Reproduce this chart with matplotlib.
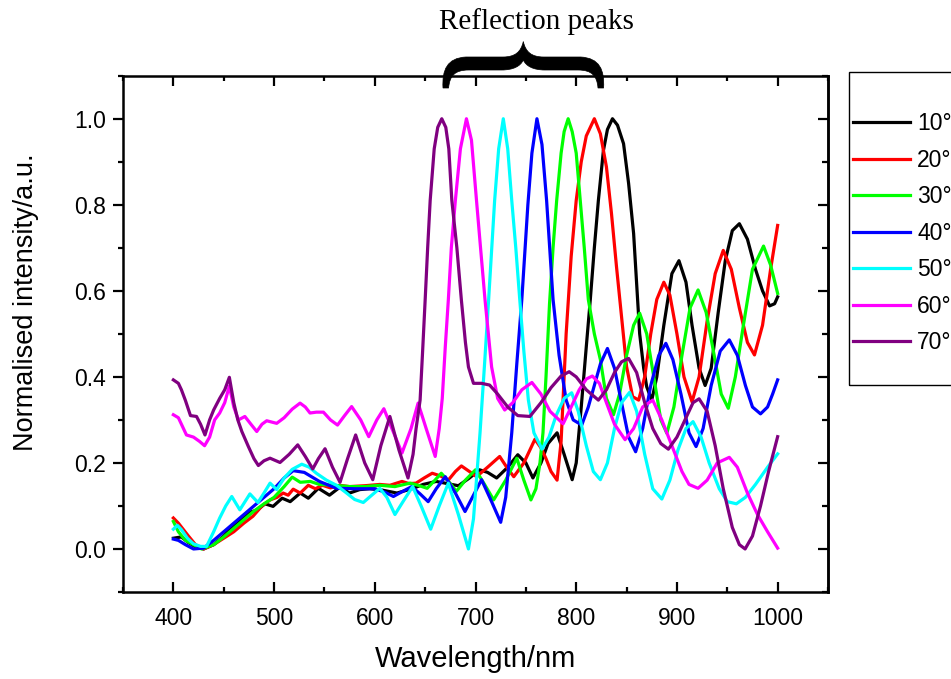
#!/usr/bin/env python3
"""Angle-resolved reflection spectra, normalised, 400-1000 nm."""

import matplotlib

matplotlib.use("Agg")
import matplotlib.pyplot as plt
from matplotlib.path import Path
from matplotlib.patches import PathPatch, Rectangle
from matplotlib.ticker import MultipleLocator

# ---- data ---------------------------------------------------------------
wl_10 = [400, 408, 415, 422, 430, 440, 450, 460, 470, 475, 483, 491, 499, 508, 516, 526, 534, 544, 555,
         565, 575, 585, 595, 607, 622, 637, 648, 661, 672, 683, 694, 704, 712, 721, 732, 742, 750, 757,
         765, 772, 781, 788, 796, 800, 805, 810, 814, 818, 822, 827, 831, 836, 841, 847, 852, 857, 863,
         867, 870, 875, 880, 887, 895, 902, 909, 915, 922, 928, 934, 941, 948, 955, 962, 970, 978, 985,
         992, 997, 1000]
in_10 = [.025, .028, .015, .005, .0, .01, .03, .055, .075, .085, .09, .105, .099, .118, .11, .13, .118, .141,
         .125, .143, .13, .138, .14, .137, .13, .14, .15, .157, .152, .147, .165, .184, .178, .165, .19, .219,
         .2, .165, .2, .245, .27, .22, .161, .2, .33, .47, .58, .7, .81, .926, .975, 1.0, .985, .942, .85,
         .733, .5, .42, .377, .346, .4, .52, .64, .67, .62, .52, .42, .38, .42, .55, .67, .74, .756, .72,
         .65, .6, .565, .57, .586]

wl_20 = [400, 405, 410, 415, 422, 430, 440, 450, 460, 470, 479, 488, 496, 503, 509, 514, 519, 526, 534,
         541, 548, 556, 565, 575, 590, 605, 615, 627, 634, 641, 649, 657, 665, 673, 680, 686, 694, 701,
         712, 724, 731, 738, 748, 759, 765, 770, 775, 781, 785, 790, 795, 800, 805, 810, 818, 824, 830,
         835, 840, 845, 850, 856, 862, 868, 874, 880, 887, 893, 900, 907, 915, 922, 930, 938, 946, 954,
         962, 970, 977, 985, 993, 1000]
in_20 = [.072, .06, .045, .03, .01, .0, .01, .025, .04, .06, .076, .1, .114, .12, .13, .125, .139, .13, .148,
         .14, .148, .142, .148, .145, .147, .15, .148, .157, .152, .153, .165, .176, .17, .16, .18, .193,
         .18, .168, .19, .215, .19, .168, .2, .255, .235, .21, .18, .16, .25, .5, .68, .81, .9, .96, 1.0,
         .965, .888, .78, .656, .54, .424, .354, .346, .4, .5, .58, .62, .59, .5, .4, .342, .4, .53, .64,
         .694, .65, .56, .48, .451, .52, .65, .752]

wl_30 = [400, 405, 412, 420, 428, 440, 450, 460, 470, 480, 490, 500, 510, 518, 526, 536, 545, 560, 575,
         590, 605, 620, 635, 643, 652, 659, 666, 674, 681, 690, 700, 709, 718, 730, 741, 748, 755, 760,
         764, 767, 770, 773.5, 777, 780.6, 785, 788, 792, 796, 800, 804, 808, 812, 818, 824, 830, 837,
         843, 850, 857, 863, 870, 877, 884, 890, 897, 905, 913, 921, 929, 937, 944, 951, 958, 966, 975,
         986, 993, 1000]
in_30 = [.064, .04, .02, .01, .0, .01, .028, .048, .068, .088, .105, .12, .145, .167, .155, .157, .15, .148,
         .145, .145, .148, .145, .153, .148, .141, .158, .176, .155, .134, .16, .184, .15, .114, .16, .211,
         .16, .114, .14, .2, .27, .4, .57, .7, .81, .92, .97, 1.0, .97, .92, .81, .7, .58, .5, .44, .35,
         .312, .36, .45, .52, .548, .5, .4, .3, .269, .33, .45, .56, .602, .55, .45, .36, .327, .4, .52,
         .65, .704, .66, .594]

wl_40 = [400, 405, 412, 420, 430, 440, 450, 460, 470, 480, 490, 500, 510, 519, 530, 545, 562, 580, 600,
         610, 618.5, 627, 636.7, 645, 653, 661, 670, 680, 689.6, 698, 706, 716, 725, 730, 736, 741, 746,
         752, 756, 761, 766, 770.6, 777, 783, 790, 797, 805.5, 812, 818, 824, 831, 838, 845, 852, 859,
         866, 874, 882, 889, 896, 904, 912, 919, 926, 934, 943, 952, 960, 968, 975, 983, 990, 995, 1000]
in_40 = [.023, .02, .01, .0, .002, .02, .04, .06, .08, .1, .12, .14, .165, .182, .178, .157, .141, .14, .14,
         .132, .122, .133, .145, .128, .11, .14, .168, .13, .087, .125, .161, .11, .062, .12, .27, .43,
         .58, .8, .92, 1.0, .94, .81, .58, .45, .346, .3, .288, .33, .38, .43, .466, .42, .34, .26, .226,
         .28, .38, .45, .478, .44, .36, .27, .238, .28, .38, .46, .486, .45, .38, .33, .314, .33, .36, .393]

wl_50 = [400, 404, 408, 414, 420, 427, 433, 440, 446, 452, 458, 466, 476, 484, 490, 496, 502.6, 510, 518,
         527.5, 535, 542, 552, 562, 572, 580, 588.6, 597, 605, 612, 620, 628, 637.6, 646, 655.5, 664, 673,
         683, 693, 698, 704.5, 709, 713, 719, 723, 727.6, 732, 736, 740, 744, 748, 752.5, 758, 766, 773,
         780, 788, 795.5, 802, 810, 817, 824, 831, 838, 845, 853, 860, 868, 876, 885, 893, 901, 909, 916,
         924, 932, 942, 950, 959, 968, 978, 990, 1000]
in_50 = [.046, .055, .045, .025, .012, .006, .006, .04, .072, .1, .122, .091, .128, .108, .13, .153, .138,
         .165, .185, .197, .19, .176, .16, .148, .13, .115, .108, .125, .141, .12, .08, .11, .145, .1, .046,
         .1, .153, .08, .0, .07, .27, .43, .578, .81, .93, 1.0, .93, .81, .7, .578, .46, .346, .27, .232,
         .26, .31, .35, .363, .32, .24, .18, .161, .2, .28, .34, .364, .32, .22, .14, .116, .16, .23, .28,
         .296, .26, .2, .14, .11, .105, .12, .15, .19, .221]

wl_60 = [400, 405, 413, 420, 426, 431, 436, 441, 446, 451, 455.6, 460, 464.6, 471, 477, 482.8, 488, 492.7,
         502.6, 510, 518, 525.8, 531, 535.7, 542, 549, 556, 563, 570, 577, 586, 594, 602, 609, 617, 627,
         636, 643, 651, 660, 664, 667, 670, 673, 676, 680, 685, 691, 696, 701, 705, 709.5, 716, 722, 729,
         737, 746, 756, 765, 774, 787, 795, 803, 810, 816, 823, 830, 838, 848.5, 857, 866, 876, 885, 895,
         905, 912, 921, 930, 940, 952, 960, 970, 980, 990, 1000]
in_60 = [.312, .305, .265, .26, .25, .24, .26, .3, .316, .34, .379, .33, .3, .308, .29, .273, .29, .298, .292,
         .305, .325, .339, .33, .316, .318, .318, .3, .288, .31, .331, .3, .261, .3, .326, .28, .223, .28,
         .339, .28, .215, .28, .35, .47, .578, .7, .81, .93, 1.0, .95, .81, .7, .578, .423, .35, .323, .34,
         .37, .387, .36, .32, .291, .33, .37, .395, .402, .385, .34, .29, .254, .28, .33, .346, .3, .24,
         .18, .15, .141, .16, .2, .213, .19, .13, .08, .04, .002]

wl_70 = [400, 405, 408, 412, 417, 423, 427, 431.4, 436, 440, 446, 451, 455.6, 460, 464, 468, 474.5, 480,
         484.4, 490, 496, 505.9, 515, 523.5, 531, 538.4, 544, 550.6, 558, 565.5, 573, 581, 590, 598, 606,
         615, 624, 633, 638, 641, 645, 647.5, 650, 652.5, 655, 659, 662.5, 666.5, 670.5, 673.5, 676.5,
         681.5, 686, 690, 693, 698, 706, 714, 722, 732, 742, 754, 765, 775, 785, 793, 800, 810, 822, 830,
         838, 845, 852, 860, 868, 876, 884, 891.5, 900, 910, 916, 922, 930, 938, 946, 955, 962, 967.7,
         975, 983, 991, 1000]
in_70 = [.393, .385, .37, .345, .31, .308, .29, .265, .3, .323, .35, .37, .399, .34, .3, .273, .238, .21,
         .194, .205, .211, .201, .22, .242, .215, .186, .21, .233, .19, .155, .21, .265, .2, .161, .24,
         .308, .23, .165, .22, .28, .346, .46, .578, .7, .81, .93, .98, 1.0, .98, .93, .81, .7, .578, .48,
         .423, .385, .385, .381, .36, .33, .31, .308, .34, .375, .402, .412, .4, .37, .346, .37, .41, .435,
         .443, .41, .34, .28, .245, .232, .26, .31, .34, .349, .32, .24, .14, .05, .01, .0, .03, .1, .18,
         .261]

labels = ["10°", "20°", "30°", "40°", "50°", "60°", "70°"]
colors = ["#000000", "#ff0000", "#00ff00", "#0000ff", "#00ffff", "#ff00ff", "#800080"]

W, H = 951, 679


def px(x, y):
    """pixel position (origin top-left) -> figure fraction"""
    return x / W, 1 - y / H


def main() -> None:
    plt.rcParams["font.family"] = ["Liberation Sans", "DejaVu Sans"]

    fig = plt.figure(figsize=(W / 100, H / 100), dpi=100)
    left, top = px(123, 75.7)
    right, bottom = px(828, 592)
    ax = fig.add_axes([left, bottom, right - left, top - bottom])

    series = [(wl_10, in_10), (wl_20, in_20), (wl_30, in_30), (wl_40, in_40),
              (wl_50, in_50), (wl_60, in_60), (wl_70, in_70)]
    for (wl, inten), lab, c in zip(series, labels, colors):
        ax.plot(wl, inten, color=c, lw=2.3, label=lab, solid_joinstyle="round")

    ax.set_xlim(350, 1050)
    ax.set_ylim(-0.1, 1.1)
    ax.set_xticks([400, 500, 600, 700, 800, 900, 1000])
    ax.xaxis.set_minor_locator(MultipleLocator(50))
    ax.yaxis.set_major_locator(MultipleLocator(0.2))
    ax.yaxis.set_minor_locator(MultipleLocator(0.1))
    ax.yaxis.set_major_formatter(plt.FormatStrFormatter("%.1f"))

    for s in ax.spines.values():
        s.set_linewidth(1.8)

    ax.tick_params(axis="x", which="both", direction="in", top=True, bottom=True,
                   labelsize=16.5, pad=11, width=1.6)
    ax.tick_params(axis="y", which="both", direction="out", left=True, right=False,
                   labelsize=16.5, pad=5.5, width=1.6)
    ax.tick_params(which="major", length=7)
    ax.tick_params(which="minor", length=3.5)

    sec = ax.secondary_yaxis("right")
    sec.yaxis.set_major_locator(MultipleLocator(0.2))
    sec.yaxis.set_minor_locator(MultipleLocator(0.1))
    sec.tick_params(which="both", direction="in", labelright=False, width=1.6)
    sec.tick_params(which="major", length=7)
    sec.tick_params(which="minor", length=4)
    sec.spines["right"].set_linewidth(1.8)

    ax.set_xlabel("Wavelength/nm", fontsize=21)
    ax.set_ylabel("Normalised intensity/a.u.", fontsize=19.5)
    ax.xaxis.set_label_coords(0.5, -0.103)
    ax.yaxis.set_label_coords(-0.119, 0.562)

    # legend (runs off the right edge like the original)
    handles, labs = ax.get_legend_handles_labels()
    leg = fig.legend(handles, labs, loc="upper left", bbox_to_anchor=px(853, 112),
                     frameon=False, fontsize=16.5, handlelength=2.5, handletextpad=0.3,
                     labelspacing=0.59, borderpad=0, borderaxespad=0)
    for ln in leg.get_lines():
        ln.set_linewidth(2.3)
    x0, y0 = px(849, 385)
    x1, y1 = px(990, 71.7)
    fig.patches.append(Rectangle((x0, y0), x1 - x0, y1 - y0, transform=fig.transFigure,
                                 fill=False, ec="black", lw=1.0))

    # curly brace over the peaks
    pts = [
        (443, 88), (442, 70), (447, 58), (466, 57), (503, 57),
        (515, 57), (521, 52), (523.3, 41.5),
        (525.6, 52), (531.6, 57), (543.6, 57), (580.6, 57),
        (599.6, 58), (604.6, 70), (603.6, 88), (598, 88),
        (597, 76), (592, 70), (578, 70), (545, 70),
        (533, 70), (526, 66), (523.3, 60),
        (520.6, 66), (513.6, 70), (501.6, 70), (468.6, 70),
        (454.6, 70), (449.6, 76), (448.6, 88), (443, 88),
    ]
    codes = [Path.MOVETO, Path.CURVE4, Path.CURVE4, Path.CURVE4, Path.LINETO,
             Path.CURVE4, Path.CURVE4, Path.CURVE4,
             Path.CURVE4, Path.CURVE4, Path.CURVE4, Path.LINETO,
             Path.CURVE4, Path.CURVE4, Path.CURVE4, Path.LINETO,
             Path.CURVE4, Path.CURVE4, Path.CURVE4, Path.LINETO,
             Path.CURVE4, Path.CURVE4, Path.CURVE4,
             Path.CURVE4, Path.CURVE4, Path.CURVE4, Path.LINETO,
             Path.CURVE4, Path.CURVE4, Path.CURVE4, Path.CLOSEPOLY]
    brace = Path([px(*p) for p in pts], codes)
    fig.patches.append(PathPatch(brace, transform=fig.transFigure, fc="black", ec="black", lw=0.5))

    tx, ty = px(536.5, 22)
    fig.text(tx, ty, "Reflection peaks", ha="center", va="center", fontsize=21,
             family=["Liberation Serif", "DejaVu Serif"])

    fig.savefig("out.png", dpi=100)
    plt.close(fig)


if __name__ == "__main__":
    main()
